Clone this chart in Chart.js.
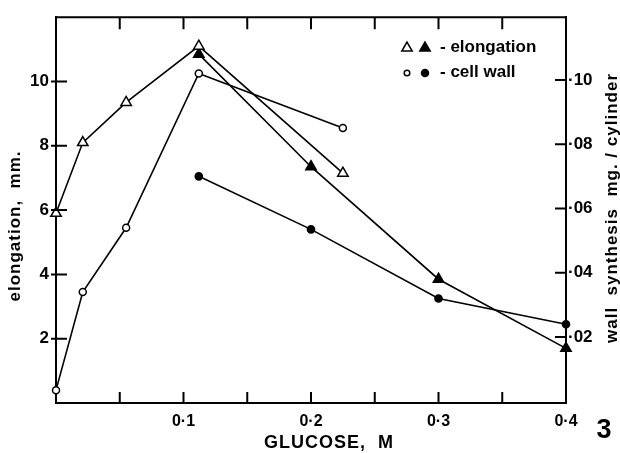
<!DOCTYPE html>
<html>
<head>
<meta charset="utf-8">
<script src="https://cdn.jsdelivr.net/npm/chart.js@4/dist/chart.umd.min.js"></script>
<style>
  body { margin: 0; background: #fff; }
</style>
</head>
<body>
<canvas id="glucose-chart" width="620" height="453"></canvas>
<script>
// glucose concentrations (M)
const glucoseOpen = [0, 0.021, 0.055, 0.112, 0.225];
const glucoseFilled = [0.112, 0.2, 0.3, 0.4];

// elongation, mm (left axis)
const elongationOpen = [5.9, 8.1, 9.35, 11.1, 7.15];
const elongationFilled = [10.85, 7.35, 3.85, 1.7];

// wall synthesis, mg / cylinder (right axis)
const wallOpen = [0.0035, 0.034, 0.054, 0.102, 0.085];
const wallFilled = [0.07, 0.0535, 0.032, 0.024];

// ticks
const xTickValues = [0.05, 0.1, 0.15, 0.2, 0.25, 0.3, 0.35, 0.4];
const xTickLabels = ["", "0·1", "", "0·2", "", "0·3", "", "0·4"];
const elongTickValues = [2, 4, 6, 8, 10];
const elongTickLabels = ["2", "4", "6", "8", "10"];
const wallTickValues = [0.02, 0.04, 0.06, 0.08, 0.10];
const wallTickLabels = ["·02", "·04", "·06", "·08", "·10"];

const FONT = "'Liberation Sans', Arial, sans-serif";

function pairs(xs, ys) {
  return xs.map(function(x, i) { return {x: x, y: ys[i]}; });
}

function series(xs, ys, axis, style, filled, radius) {
  return {
    data: pairs(xs, ys),
    yAxisID: axis,
    borderColor: "#000",
    borderWidth: 1.6,
    pointStyle: style,
    pointRadius: radius,
    pointBorderWidth: 1.5,
    pointBorderColor: "#000",
    pointBackgroundColor: filled ? "#000" : "#fff",
    tension: 0,
    clip: false
  };
}

function setTicks(values) {
  return function(scale) {
    scale.ticks = values.map(function(v) { return {value: v}; });
  };
}

// inward tick marks, top frame line, titles and key
const framePlugin = {
  id: "frame",
  afterDraw: function(chart) {
    const ctx = chart.ctx;
    const area = chart.chartArea;
    const x = chart.scales.x, y = chart.scales.y, y2 = chart.scales.y2;
    ctx.save();
    ctx.strokeStyle = "#000";
    ctx.lineWidth = 2;
    ctx.beginPath();
    ctx.moveTo(area.left - 1, area.top);
    ctx.lineTo(area.right + 1, area.top);
    xTickValues.forEach(function(v) {
      const px = x.getPixelForValue(v);
      if (v < 0.4) {
        ctx.moveTo(px, area.bottom);
        ctx.lineTo(px, area.bottom - 11);
      }
      ctx.moveTo(px, area.top);
      ctx.lineTo(px, area.top + 12);
    });
    elongTickValues.forEach(function(v) {
      const py = y.getPixelForValue(v);
      ctx.moveTo(area.left - 5, py);
      ctx.lineTo(area.left + 11, py);
    });
    wallTickValues.forEach(function(v) {
      const py = y2.getPixelForValue(v);
      ctx.moveTo(area.right - 11, py);
      ctx.lineTo(area.right, py);
    });
    ctx.stroke();

    ctx.fillStyle = "#000";
    ctx.textBaseline = "middle";

    // axis titles
    ctx.font = "bold 18px " + FONT;
    ctx.letterSpacing = "1px";
    ctx.textAlign = "center";
    ctx.fillText("GLUCOSE,  M", 329, 443);

    ctx.font = "bold 17px " + FONT;
    ctx.save();
    ctx.translate(15, 226);
    ctx.rotate(-Math.PI / 2);
    ctx.fillText("elongation,  mm.", 0, 0);
    ctx.restore();

    ctx.save();
    ctx.translate(612, 208);
    ctx.rotate(-Math.PI / 2);
    ctx.fillText("wall  synthesis  mg. / cylinder", 0, 0);
    ctx.restore();

    ctx.letterSpacing = "0px";
    ctx.font = "bold 27px " + FONT;
    ctx.fillText("3", 604, 431);

    // key
    const drawPoint = Chart.helpers.drawPoint;
    ctx.lineWidth = 1.5;
    ctx.fillStyle = "#fff";
    drawPoint(ctx, {pointStyle: "triangle", radius: 6, rotation: 0, borderWidth: 1.5}, 407, 48);
    drawPoint(ctx, {pointStyle: "circle", radius: 2.8, rotation: 0, borderWidth: 1.5}, 407, 73);
    ctx.fillStyle = "#000";
    drawPoint(ctx, {pointStyle: "triangle", radius: 6, rotation: 0, borderWidth: 1.5}, 425, 48);
    drawPoint(ctx, {pointStyle: "circle", radius: 3.5, rotation: 0, borderWidth: 1}, 425, 73);

    ctx.font = "bold 17px " + FONT;
    ctx.textAlign = "left";
    ctx.fillText("- elongation", 440, 47);
    ctx.fillText("- cell wall", 440, 72);
    ctx.restore();
  }
};

new Chart(document.getElementById("glucose-chart"), {
  type: "line",
  data: {
    datasets: [
      series(glucoseOpen, elongationOpen, "y", "triangle", false, 6),
      series(glucoseFilled, elongationFilled, "y", "triangle", true, 6),
      series(glucoseOpen, wallOpen, "y2", "circle", false, 3.5),
      series(glucoseFilled, wallFilled, "y2", "circle", true, 3.6)
    ]
  },
  options: {
    responsive: false,
    animation: false,
    layout: {
      padding: {top: 15, left: 0, right: 0, bottom: 0}
    },
    plugins: {
      legend: false,
      tooltip: {enabled: false}
    },
    scales: {
      x: {
        type: "linear",
        min: 0,
        max: 0.4,
        afterBuildTicks: setTicks(xTickValues),
        afterFit: function(scale) { scale.height = 50; },
        grid: {display: false, drawTicks: false},
        border: {display: true, color: "#000", width: 2},
        ticks: {
          padding: 9,
          color: "#000",
          maxRotation: 0,
          autoSkip: false,
          font: {family: FONT, size: 16, weight: "bold"},
          callback: function(value, index) { return xTickLabels[index]; }
        }
      },
      y: {
        position: "left",
        min: 0,
        max: 12,
        afterBuildTicks: setTicks(elongTickValues),
        afterFit: function(scale) { scale.width = 56; },
        grid: {display: false, drawTicks: false},
        border: {display: true, color: "#000", width: 2},
        ticks: {
          padding: 7,
          color: "#000",
          autoSkip: false,
          font: {family: FONT, size: 17, weight: "bold"},
          callback: function(value, index) { return elongTickLabels[index]; }
        }
      },
      y2: {
        position: "right",
        min: -0.0005,
        max: 0.1195,
        afterBuildTicks: setTicks(wallTickValues),
        afterFit: function(scale) { scale.width = 54; },
        grid: {display: false, drawTicks: false},
        border: {display: true, color: "#000", width: 2},
        ticks: {
          padding: 2,
          color: "#000",
          autoSkip: false,
          font: {family: FONT, size: 17, weight: "bold"},
          callback: function(value, index) { return wallTickLabels[index]; }
        }
      }
    }
  },
  plugins: [framePlugin]
});
</script>
</body>
</html>
